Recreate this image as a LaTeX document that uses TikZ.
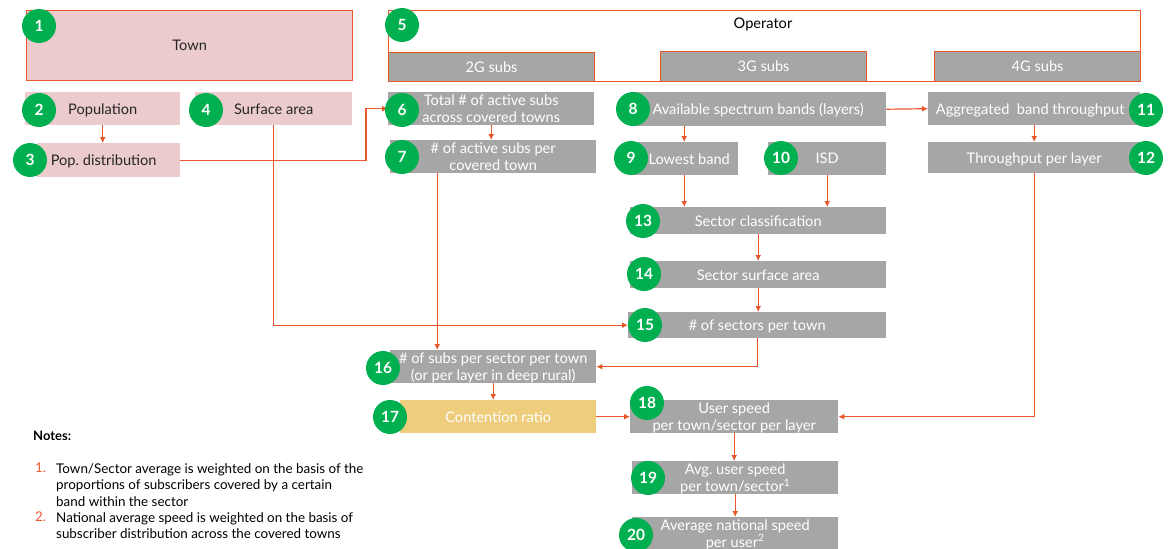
\documentclass[tikz,border=0pt]{standalone}
\usepackage{fontspec}
\setmainfont{Lato}
\usepackage{xcolor}
\usetikzlibrary{arrows.meta}
\definecolor{linecolorc}{HTML}{E8572A}
\definecolor{pinkcolorc}{HTML}{EBCBCC}
\definecolor{greycolorc}{HTML}{A6A6A6}
\definecolor{yellowcolorc}{HTML}{EECD7C}
\definecolor{badgecolorc}{HTML}{00B050}
\colorlet{linecolor}{linecolorc}
\colorlet{pinkcolor}{pinkcolorc}
\colorlet{greycolor}{greycolorc}
\colorlet{yellowcolor}{yellowcolorc}
\colorlet{badgecolor}{badgecolorc}
\tikzstyle{flatbox} =[
    anchor=north west,
    inner sep=0pt,
    text depth=0pt,
    align=center
    ]
\tikzstyle{pinkbox} =[
    flatbox,
    fill=pinkcolor,
    text=black!85
    ]
\tikzstyle{greybox} =[
    flatbox,
    fill=greycolor,
    text=white
    ]
\tikzstyle{framed} =[
    draw=linecolor,
    line width=1.2pt
    ]
\tikzstyle{badge} =[
    circle,
    fill=badgecolor,
    text=white,
    minimum size=34pt,
    inner sep=0pt,
    font=\bfseries\fontsize{15.5}{15.5}\selectfont
    ]
\tikzstyle{link} =[
    draw=linecolor,
    line width=1.2pt,
    -{Latex[length=6pt,width=6pt]}
    ]
\tikzstyle{notetext} =[
    anchor=north west,
    inner sep=0pt,
    align=left,
    font=\fontsize{13.4}{16.5}\selectfont
    ]

\begin{document}
\begin{tikzpicture}[x=1pt,y=-1pt,font=\fontsize{14.6}{17}\selectfont]
\useasboundingbox (0,0) rectangle (1173,549);
\node [pinkbox, framed, minimum width=326pt, minimum height=70pt] (n1) at (26,10) {Town};
\node [pinkbox, minimum width=155pt, minimum height=33pt] (n2) at (25,92) {Population};
\node [pinkbox, minimum width=143pt, minimum height=34pt] (n3) at (37,143) {Pop.\ distribution\hspace{10pt}};
\node [pinkbox, minimum width=157pt, minimum height=33pt] (n4) at (195,92) {Surface area};
\node [flatbox, fill=white, framed, minimum width=752pt, minimum height=71pt] (n5) at (388,10) {};
\node (optitle) at (763,24) {Operator};
\node [greybox, framed, minimum width=206pt, minimum height=29pt] (sub2g) at (388,52) {2G subs};
\node [greybox, framed, minimum width=206pt, minimum height=30pt] (sub3g) at (660,51) {3G subs};
\node [greybox, framed, minimum width=206pt, minimum height=30pt] (sub4g) at (934,51) {4G subs};
\node [greybox, minimum width=206pt, minimum height=33pt] (n6) at (388,92) {Total \# of active subs\\across covered towns};
\node [greybox, minimum width=206pt, minimum height=33pt] (n7) at (390,140) {\# of active subs per\\covered town};
\node [greybox, minimum width=256pt, minimum height=34pt] (n8) at (630,92) {Available spectrum bands (layers)};
\node [greybox, minimum width=108pt, minimum height=33pt] (n9) at (630,142) {\hspace{10pt}Lowest band};
\node [greybox, minimum width=118pt, minimum height=33pt] (n10) at (768,142) {ISD};
\node [greybox, minimum width=212pt, minimum height=33pt] (n11) at (928,92) {Aggregated\ \ band throughput\hspace{8pt}};
\node [greybox, minimum width=212pt, minimum height=31pt] (n12) at (928,142) {Throughput per layer};
\node [greybox, minimum width=256pt, minimum height=27pt] (n13) at (630,207) {Sector classification};
\node [greybox, minimum width=256pt, minimum height=27pt] (n14) at (630,261) {Sector surface area};
\node [greybox, minimum width=258pt, minimum height=26pt] (n15) at (628,312) {\# of sectors per town};
\node [greybox, minimum width=206pt, minimum height=33pt] (n16) at (390,350) {\# of subs per sector per town\\(or per layer in deep rural)};
\node [flatbox, fill=yellowcolor, text=white, minimum width=196pt, minimum height=33pt] (n17) at (400,400) {Contention ratio};
\node [greybox, minimum width=208pt, minimum height=33pt] (n18) at (630,400) {User speed\\per town/sector per layer\hspace{18pt}};
\node [greybox, minimum width=206pt, minimum height=33pt] (n19) at (632,461) {Avg.\ user speed\\per town/sector\textsuperscript{1}\hspace{12pt}};
\node [greybox, minimum width=206pt, minimum height=32pt] (n20) at (632,517) {Average national speed\\per user\textsuperscript{2}\hspace{12pt}};

\draw [link] (n2.south) -- (n2.south |- n3.north);
\draw [link] (n3.east) -| ([xshift=-22pt]n6.west) -- (n6.west);
\draw [link] (n4.south) |- (n15.west);
\draw [link] (n6.south) -- (n6.south |- n7.north);
\draw [link] ([xshift=-56pt]n7.south) -- ([xshift=-56pt]n7.south |- n16.north);
\draw [link] (n8.east) -- (n11.west);
\draw [link] (n9.south |- n8.south) -- (n9.north);
\draw [link] (n11.south) -- (n12.north);
\draw [link] (n9.south) -- (n9.south |- n13.north);
\draw [link] (n10.south) -- (n10.south |- n13.north);
\draw [link] (n13.south) -- (n14.north);
\draw [link] (n14.south) -- (n14.south |- n15.north);
\draw [link] (n15.south) |- (n16.east);
\draw [link] (n16.south) -- (n16.south |- n17.north);
\draw [link] (n17.east) -- (n18.west);
\draw [link] (n12.south) |- (n18.east);
\draw [link] (n18.south) -- (n18.south |- n19.north);
\draw [link] (n19.south) -- (n19.south |- n20.north);

\node [badge] (b1) at (39,26) {1};
\node [badge] (b2) at (39,110) {2};
\node [badge] (b3) at (30,160) {3};
\node [badge] (b4) at (206,110) {4};
\node [badge] (b5) at (402,25) {5};
\node [badge] (b6) at (402,110) {6};
\node [badge] (b7) at (402,157) {7};
\node [badge] (b8) at (633,109) {8};
\node [badge] (b9) at (631,158) {9};
\node [badge] (b10) at (781,158) {10};
\node [badge] (b11) at (1146,110) {11};
\node [badge] (b12) at (1146,158) {12};
\node [badge] (b13) at (643,221) {13};
\node [badge] (b14) at (644,274) {14};
\node [badge] (b15) at (645,325) {15};
\node [badge] (b16) at (383,368) {16};
\node [badge] (b17) at (390,417) {17};
\node [badge] (b18) at (647,403) {18};
\node [badge] (b19) at (648,478) {19};
\node [badge] (b20) at (636,535) {20};

\node [notetext, font=\bfseries\fontsize{13}{16.5}\selectfont] (notes) at (33,431) {Notes:};
\node [notetext, text=linecolor] (num1) at (35,463) {1.};
\node [notetext] (note1) at (56,463) {Town/Sector average is weighted on the basis of the\\proportions of subscribers covered by a certain\\band within the sector};
\node [notetext, text=linecolor] (num2) at (35,512) {2.};
\node [notetext] (note2) at (56,512) {National average speed is weighted on the basis of\\subscriber distribution across the covered towns};
\end{tikzpicture}
\end{document}
